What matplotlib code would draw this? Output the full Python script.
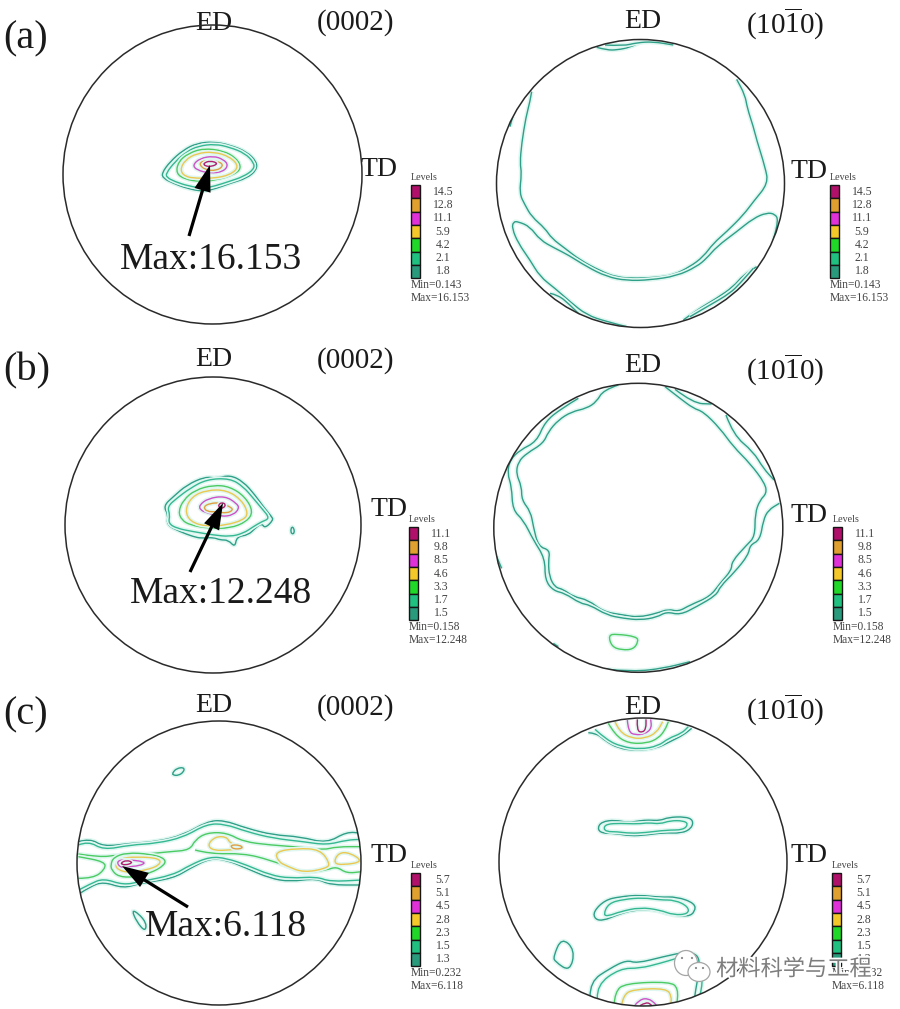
"""
Pole figures (0002) and (10-10) for three samples, traced from the picture.
Contours are stored as read from 3x crops, with the crop origin next to them.
"""
import matplotlib
matplotlib.use("Agg")
import matplotlib.pyplot as plt
from matplotlib.patches import Circle, Ellipse, PathPatch, Rectangle
from matplotlib.path import Path
import matplotlib.patheffects as pe
import numpy as np

TEAL = "#2f9f88"
TEAL2 = "#34b892"
GREEN = "#4ccb62"
YELLOW = "#ecc850"
MAGENTA = "#d050c8"
ORANGE = "#e0a040"
CRIMSON = "#b02070"

level_colors = ["#b0106a", "#dfa030", "#e030d8", "#f4c828", "#20d828", "#20c080", "#2a9a7c"]

levels_a = ["14.5", "12.8", "11.1", "5.9", "4.2", "2.1", "1.8"]
levels_b = ["11.1", "9.8", "8.5", "4.6", "3.3", "1.7", "1.5"]
levels_c = ["5.7", "5.1", "4.5", "2.8", "2.3", "1.5", "1.3"]
min_a, max_a = "Min=0.143", "Max=16.153"
min_b, max_b = "Min=0.158", "Max=12.248"
min_c, max_c = "Min=0.232", "Max=6.118"

# (a) 0002, crop origin 60,120
a0_origin = (60, 120)
a0_lines = [
    (TEAL, [(305,160),(330,125),(370,90),(410,70),(460,65),(510,75),(560,95),(590,125),(590,150),(560,175),(510,190),(470,205),(430,215),(380,205),(340,190),(310,175),(305,160)]),
    (TEAL2, [(318,160),(345,125),(380,95),(415,78),(465,72),(510,82),(555,100),(582,128),(582,148),(550,170),(505,185),(465,198),(430,205),(385,198),(345,185),(320,172),(318,160)]),
    (GREEN, [(348,160),(355,125),(385,100),(430,85),(490,92),(530,115),(545,145),(520,165),(470,180),(420,185),(375,178),(348,160)]),
    (YELLOW, [(360,150),(375,120),(410,100),(460,95),(510,110),(538,140),(510,165),(460,175),(410,175),(375,170),(360,150)]),
    (MAGENTA, [(398,135),(420,115),(460,108),(490,118),(505,135),(490,155),(450,160),(410,150),(398,135)]),
    (ORANGE, [(415,130),(440,120),(480,125),(490,138),(470,152),(435,150),(415,130)]),
    (CRIMSON, [(430,130),(450,122),(475,130),(455,140),(435,138),(430,130)]),
]

# (a) 10-10, crop origin 490,30
a1_origin = (490, 30)
a1_lines = [
    (TEAL, [(320,52),(350,60),(380,60),(420,52),(455,35)]),
    (TEAL, [(345,45),(400,48),(440,38),(490,35),(550,45)]),
    (TEAL, [(125,185),(120,215),(108,260),(95,340),(90,400),(95,430),(88,490),(105,525),(125,560),(165,595),(185,625),(225,655),(270,690),(330,722),(380,742),(440,745),(500,742),(550,735),(600,710),(640,680),(670,640),(710,605),(760,555),(790,515),(835,460),(825,410),(800,330),(790,290),(772,235),(765,195),(740,148)]),
    (TEAL, [(410,890),(350,875),(290,855),(240,815),(195,775),(150,740),(120,690),(85,640),(66,595),(70,575),(85,575),(120,590),(150,630),(195,655),(235,675),(290,710),(350,740),(410,752),(480,750),(560,738),(620,710),(650,685),(680,650),(740,605),(790,565),(830,548),(855,552),(865,570),(850,630)]),
    (TEAL, [(580,870),(620,840),(680,805),(730,770),(760,735),(800,710)]),
    (TEAL, [(600,860),(660,825),(720,790),(750,760),(790,715)]),
    (TEAL, [(180,790),(205,795),(240,825),(270,855)]),
    (TEAL, [(60,290),(68,260)]),
]

# (b) 0002, crop origin 130,460
b0_origin = (130, 460)
b0_lines = [
    (TEAL, [(100,138),(130,110),(170,75),(225,50),(260,55),(300,45),(340,65),(375,105),(400,140),(425,170),(430,180),(405,205),(395,190),(375,205),(355,225),(320,230),(315,262),(295,240),(270,240),(250,232),(215,235),(190,230),(150,215),(110,195),(115,165),(100,138)]),
    (TEAL2, [(112,140),(140,115),(180,85),(230,58),(300,55),(340,80),(370,115),(395,145),(420,175),(395,185),(370,200),(340,220),(300,230),(250,225),(190,215),(140,205),(115,190),(120,165),(112,140)]),
    (GREEN, [(145,155),(160,120),(195,90),(250,75),(300,80),(345,110),(370,155),(350,185),(300,205),(235,205),(180,195),(155,180),(145,155)]),
    (YELLOW, [(165,150),(185,110),(230,90),(290,90),(335,120),(355,160),(340,180),(290,195),(230,200),(180,185),(165,150)]),
    (MAGENTA, [(208,135),(235,115),(285,108),(320,130),(328,145),(310,165),(275,170),(235,160),(210,150),(208,135)]),
    (ORANGE, [(220,140),(240,130),(270,128),(300,140),(310,150),(290,160),(260,155),(230,155),(220,140)]),
    (CRIMSON, [(265,135),(275,127),(288,133),(280,145),(268,143),(265,135)]),
    (TEAL, [(485,200),(492,205),(493,220),(485,222),(482,212),(485,200)]),
]

# (b) 10-10, crop origin 490,380
b1_origin = (490, 380)
b1_lines = [
    (TEAL, [(385,15),(340,30),(320,65),(290,85),(245,95),(205,120),(175,155),(160,190),(110,220),(85,245),(78,280),(95,320),(95,360),(122,395),(130,440),(145,500),(180,510),(175,545),(178,590),(195,622),(220,628),(250,650),(295,660),(340,695),(400,705),(445,712),(500,700),(535,687),(565,695),(600,675),(660,650),(690,610),(725,570),(725,545),(770,495),(795,470),(795,400),(810,360),(830,340),(825,310),(780,250),(730,200),(690,145),(640,95),(610,85),(570,55),(525,20)]),
    (TEAL, [(265,55),(215,85),(165,125),(140,185),(90,210),(60,240),(52,280),(65,320),(68,390),(100,420),(130,480),(165,535),(165,600),(190,632),(225,640),(270,670),(300,675),(350,705),(400,715),(450,720),(500,712),(530,695),(570,705),(620,680),(680,645),(690,620),(735,575),(775,525),(780,495),(810,480),(820,420),(835,390),(868,370)]),
    (TEAL, [(555,28),(610,70),(665,72)]),
    (TEAL, [(708,105),(730,165),(790,215),(820,265),(852,300)]),
    (GREEN, [(355,765),(380,762),(440,770),(445,785),(430,808),(395,810),(365,800),(355,765)]),
    (TEAL, [(20,530),(35,565)]),
    (TEAL, [(190,790),(205,800)]),
    (TEAL, [(350,868),(430,875),(520,865),(600,845)]),
]

# (c) 0002, crop origin 70,780
c0_origin = (70, 780)
c0_lines = [
    (TEAL, [(25,185),(60,175),(100,200),(180,190),(260,185),(340,165),(410,125),(460,120),(530,145),(610,165),(690,170),(770,190),(830,155),(875,160)]),
    (TEAL2, [(25,195),(55,183),(100,210),(180,195),(260,190),(340,172),(410,132),(465,132),(530,155),(610,175),(700,185),(770,195),(830,180),(875,178)]),
    (GREEN, [(25,222),(90,232),(140,225),(200,225),(300,215),(360,210),(375,180),(410,158),(470,158),(520,185),(600,195),(700,202),(760,210),(800,200),(880,200)]),
    (GREEN, [(375,210),(420,222),(520,220),(600,240),(680,270),(700,280),(770,270),(800,260),(830,280),(875,275)]),
    (GREEN, [(25,295),(70,295),(105,268),(105,245),(25,230)]),
    (TEAL, [(30,340),(60,320),(100,305),(160,325),(210,310),(310,295),(360,265),(420,235),(470,240),(530,265),(600,295),(660,305),(740,295),(780,315),(875,315)]),
    (TEAL2, [(30,328),(60,312),(100,295),(160,315),(210,305),(310,285),(360,255),(420,230),(470,235),(530,255),(600,285),(660,295),(740,290),(780,305),(875,300)]),
    (GREEN, [(122,255),(130,232),(170,218),(240,222),(285,235),(285,255),(240,280),(190,292),(145,290),(125,270),(122,255)]),
    (YELLOW, [(135,255),(150,235),(200,230),(270,235),(270,255),(230,270),(175,278),(145,270),(135,255)]),
    (MAGENTA, [(140,245),(160,238),(230,245),(210,258),(165,260),(150,262),(140,245)]),
    (CRIMSON, [(150,250),(170,240),(190,248),(165,256),(150,250)]),
    (YELLOW, [(412,195),(435,170),(470,170),(480,190),(520,205),(480,210),(430,212),(412,195)]),
    (ORANGE, [(480,195),(510,195),(520,205),(490,208),(480,195)]),
    (YELLOW, [(615,215),(680,205),(750,208),(780,250),(770,265),(700,278),(650,258),(625,245),(615,215)]),
    (YELLOW, [(790,250),(805,218),(840,218),(880,245),(820,255),(790,250)]),
    (TEAL, [(185,390),(205,400),(230,430),(225,455),(200,425),(185,390)]),
]
c0_speck_origin = (0, 680)
c0_speck = [(TEAL, [(518,278),(530,265),(552,262),(552,275),(535,287),(518,285),(518,278)])]

# (c) 10-10, three crops
c1_top_origin = (560, 710)
c1_top = [
    (TEAL, [(85,68),(110,70),(135,92),(175,115),(230,122),(290,115),(330,95),(370,75),(395,55)]),
    (TEAL2, [(105,58),(140,90),(185,110),(240,118),(295,108),(325,85),(365,70),(385,50)]),
    (GREEN, [(145,40),(165,75),(205,100),(260,100),(295,85),(315,60),(325,35)]),
    (YELLOW, [(165,35),(178,65),(215,85),(255,85),(290,68),(308,35)]),
    (MAGENTA, [(202,30),(205,65),(225,75),(255,72),(275,55),(272,28)]),
    (CRIMSON, [(232,28),(230,62),(248,68),(258,55),(258,28)]),
]
c1_mid_origin = (560, 800)
c1_mid = [
    (TEAL, [(112,85),(125,65),(165,60),(205,68),(240,62),(265,60),(300,62),(325,52),(375,50),(400,60),(395,85),(365,100),(310,98),(260,105),(210,108),(165,100),(125,100),(112,85)]),
    (TEAL2, [(130,85),(140,72),(180,70),(235,72),(265,68),(300,72),(330,62),(370,62),(385,72),(370,90),(320,90),(255,98),(210,100),(170,95),(140,95),(130,85)]),
    (TEAL, [(100,335),(135,300),(180,290),(240,285),(300,292),(350,290),(405,310),(405,335),(385,350),(330,345),(280,328),(220,330),(170,345),(130,362),(105,358),(100,335)]),
    (TEAL2, [(130,345),(145,310),(190,298),(250,293),(300,300),(345,300),(385,320),(385,342),(340,345),(300,330),(240,322),(180,335),(145,348),(130,345)]),
]
c1_low_origin = (540, 900)
c1_low = [
    (TEAL, [(65,112),(105,150),(90,215),(45,185),(40,170),(65,112)]),
    (TEAL, [(150,290),(150,245),(210,205),(260,180),(290,190),(370,170),(440,155),(485,170),(465,280),(462,310)]),
    (TEAL2, [(172,295),(170,255),(240,205),(300,205),(360,190),(410,175)]),
    (TEAL2, [(480,285),(490,245),(478,195)]),
    (GREEN, [(222,315),(225,275),(255,250),(390,245),(415,265),(410,320)]),
    (YELLOW, [(245,315),(250,285),(280,268),(380,265),(395,290),(392,315)]),
    (MAGENTA, [(285,315),(300,298),(325,295),(345,310),(350,318)]),
    (CRIMSON, [(300,317),(320,305),(335,316)]),
]

SERIF = "Liberation Serif"
plt.rcParams["mathtext.fontset"] = "custom"
plt.rcParams["mathtext.rm"] = SERIF

W, H = 900, 1009
fig = plt.figure(figsize=(W / 100, H / 100), dpi=100)
ax = fig.add_axes([0, 0, 1, 1])
ax.set_xlim(0, W)
ax.set_ylim(H, 0)
ax.axis("off")


def rounded_path(pts):
    """Quadratic segments with the traced points as control points, so the rings are not angular."""
    mids = (pts[:-1] + pts[1:]) / 2
    if np.allclose(pts[0], pts[-1]):
        verts = [mids[-1]]
        for ctrl, mid in zip(pts[:-1], mids):
            verts += [ctrl, mid]
        codes = [Path.MOVETO] + [Path.CURVE3] * (len(verts) - 1)
    else:
        verts = [pts[0]]
        for ctrl, mid in zip(pts[1:-1], mids[1:]):
            verts += [ctrl, mid]
        codes = [Path.MOVETO] + [Path.CURVE3] * (len(verts) - 1)
        verts.append(pts[-1])
        codes.append(Path.LINETO)
    return Path(verts, codes)


def draw_contours(lines, origin, clip):
    halo = [pe.Stroke(linewidth=3.2, foreground="#e0f7f1"), pe.Normal()]
    for color, pts in lines:
        pts = np.asarray(pts, dtype=float) / 3 + origin
        patch = PathPatch(rounded_path(pts), fill=False, edgecolor=color, lw=1.0, path_effects=halo)
        ax.add_patch(patch)
        patch.set_clip_path(clip)


def draw_pole(cx, cy, r, groups):
    clip = Circle((cx, cy), r, transform=ax.transData, fill=False)
    for lines, origin in groups:
        draw_contours(lines, origin, clip)
    ax.add_patch(Circle((cx, cy), r, fill=False, edgecolor="#2a2a2a", lw=1.1, zorder=4))


def draw_levels(x, top, values, min_text, max_text):
    step = 13.3
    ax.text(x, top - 7, "Levels", family=SERIF, fontsize=7.2, color="#444444", va="center", ha="left")
    for i, (value, color) in enumerate(zip(values, level_colors)):
        ax.add_patch(Rectangle((x, top + i * step), 9, step, facecolor=color, edgecolor="#151515", lw=1.0))
        ax.text(x + 32, top + (i + 0.5) * step, value, family=SERIF, fontsize=8.5, color="#444444", va="center", ha="center")
    ax.text(x, top + 100, min_text, family=SERIF, fontsize=8.3, color="#444444", va="center", ha="left")
    ax.text(x, top + 113, max_text, family=SERIF, fontsize=8.3, color="#444444", va="center", ha="left")


def label(x, y, s, size, ha="center"):
    ax.text(x, y + 3, s, family=SERIF, fontsize=size, color="#1a1a1a", va="center", ha=ha)


def max_arrow(tail, tip, text, x, y):
    ax.annotate("", xy=tip, xytext=tail, zorder=5,
                arrowprops=dict(facecolor="black", edgecolor="black", width=2.3, headwidth=12, headlength=19, shrink=0, lw=0))
    ax.text(x, y + 3, text, family=SERIF, fontsize=27, color="#1a1a1a", va="center", ha="center", zorder=6)


draw_pole(212.5, 174.5, 149.5, [(a0_lines, a0_origin)])
draw_pole(640.5, 183.5, 144, [(a1_lines, a1_origin)])
draw_pole(213, 525, 148, [(b0_lines, b0_origin)])
draw_pole(638.3, 527.8, 144.5, [(b1_lines, b1_origin)])
draw_pole(219, 863, 142, [(c0_lines, c0_origin), (c0_speck, c0_speck_origin)])
draw_pole(643, 862, 144, [(c1_top, c1_top_origin), (c1_mid, c1_mid_origin), (c1_low, c1_low_origin)])

draw_levels(411, 185, levels_a, min_a, max_a)
draw_levels(830, 185, levels_a, min_a, max_a)
draw_levels(409, 527, levels_b, min_b, max_b)
draw_levels(833, 527, levels_b, min_b, max_b)
draw_levels(411, 873, levels_c, min_c, max_c)
draw_levels(832, 873, levels_c, min_c, max_c)

PLANE_A = "(0002)"
PLANE_B = r"(10$\overline{\mathregular{1}}$0)"
for x, y in [(355, 20), (355, 358), (355, 705)]:
    label(x, y, PLANE_A, 21)
for x, y in [(785, 20), (785, 366), (785, 706)]:
    label(x, y, PLANE_B, 21)
for x, y in [(214, 21), (214, 356), (214, 703), (643, 18), (643, 362), (643, 705)]:
    label(x, y, "ED", 20)
for x, y in [(379, 167), (809, 168), (389, 506), (809, 513), (389, 853), (809, 853)]:
    label(x, y, "TD", 20)
label(3, 36, "(a)", 29, ha="left")
label(3, 368, "(b)", 29, ha="left")
label(3, 712, "(c)", 29, ha="left")

max_arrow((189, 236), (210, 165), "Max:16.153", 211, 257)
max_arrow((190, 572), (223, 503), "Max:12.248", 221, 591)
max_arrow((188, 907), (122, 866), "Max:6.118", 226, 924)

# watermark
ax.add_patch(Ellipse((686, 963), 23, 25, facecolor="white", edgecolor="#a5a5a5", lw=0.9, zorder=7))
ax.add_patch(Ellipse((699, 972), 22, 19, facecolor="white", edgecolor="#a5a5a5", lw=0.9, zorder=7))
for dx, dy in [(682, 958), (692, 958), (696, 968), (703, 968)]:
    ax.add_patch(Circle((dx, dy), 1.1, facecolor="#888888", edgecolor="none", zorder=8))
ax.text(794, 969, "材料科学与工程", family=["Noto Sans CJK SC", "DejaVu Sans"], fontsize=16, color="#7d7d7d",
        va="center", ha="center", zorder=8, path_effects=[pe.withStroke(linewidth=2.5, foreground="white")])

fig.savefig("out.png", dpi=100)
